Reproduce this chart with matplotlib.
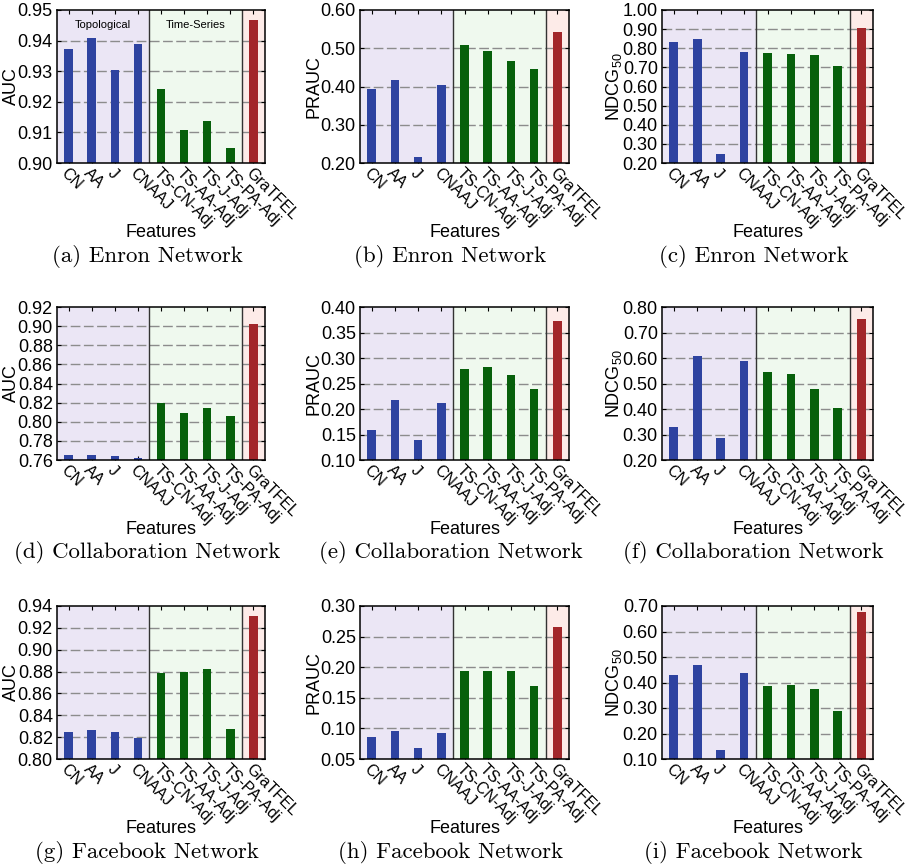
import numpy as np
import matplotlib
matplotlib.use("Agg")
import matplotlib.pyplot as plt

plt.rcParams['font.family'] = ['Liberation Sans', 'DejaVu Sans']
plt.rcParams['mathtext.default'] = 'regular'

features = ['CN', 'AA', 'J', 'CNAAJ', 'TS-CN-Adj', 'TS-AA-Adj', 'TS-J-Adj', 'TS-PA-Adj', 'GraTFEL']

# Enron
enron_auc = [0.9373, 0.9408, 0.9303, 0.9389, 0.9242, 0.9109, 0.9138, 0.9050, 0.9467]
enron_prauc = [0.394, 0.417, 0.216, 0.404, 0.509, 0.493, 0.467, 0.446, 0.543]
enron_ndcg = [0.833, 0.849, 0.249, 0.781, 0.777, 0.770, 0.765, 0.708, 0.906]
# Collaboration
collab_auc = [0.7655, 0.7655, 0.7645, 0.7617, 0.8196, 0.8092, 0.8140, 0.8060, 0.9027]
collab_prauc = [0.159, 0.2175, 0.1396, 0.2117, 0.278, 0.282, 0.266, 0.239, 0.372]
collab_ndcg = [0.330, 0.6065, 0.287, 0.587, 0.544, 0.536, 0.478, 0.404, 0.751]
# Facebook
fb_auc = [0.8245, 0.8264, 0.8245, 0.8190, 0.8790, 0.8800, 0.8827, 0.8273, 0.9312]
fb_prauc = [0.0857, 0.0955, 0.0679, 0.0920, 0.1930, 0.1945, 0.1945, 0.1700, 0.2660]
fb_ndcg = [0.431, 0.470, 0.135, 0.439, 0.388, 0.392, 0.373, 0.287, 0.677]

panels = [
    (enron_auc, 'AUC', 0.90, 0.95, 0.01, '(a) Enron Network'),
    (enron_prauc, 'PRAUC', 0.20, 0.60, 0.10, '(b) Enron Network'),
    (enron_ndcg, 'NDCG$_{50}$', 0.20, 1.00, 0.10, '(c) Enron Network'),
    (collab_auc, 'AUC', 0.76, 0.92, 0.02, '(d) Collaboration Network'),
    (collab_prauc, 'PRAUC', 0.10, 0.40, 0.05, '(e) Collaboration Network'),
    (collab_ndcg, 'NDCG$_{50}$', 0.20, 0.80, 0.10, '(f) Collaboration Network'),
    (fb_auc, 'AUC', 0.80, 0.94, 0.02, '(g) Facebook Network'),
    (fb_prauc, 'PRAUC', 0.05, 0.30, 0.05, '(h) Facebook Network'),
    (fb_ndcg, 'NDCG$_{50}$', 0.10, 0.70, 0.10, '(i) Facebook Network'),
]

bar_colors = ['#2e43a0'] * 4 + ['#07600b'] * 4 + ['#a2262a']

W, H = 907, 868
fig = plt.figure(figsize=(W / 100, H / 100), dpi=100)

lefts = [57, 360, 662]
widths = [208, 209, 211]
tops = [10, 307, 606]
height = 153

for i, (vals, ylab, lo, hi, step, cap) in enumerate(panels):
    r, c = divmod(i, 3)
    ax = fig.add_axes([lefts[c] / W, 1 - (tops[r] + height) / H, widths[c] / W, height / H])
    x = np.arange(len(features))
    ax.axvspan(-0.5, 3.5, color='#ebe6f5', zorder=0)
    ax.axvspan(3.5, 7.5, color='#eff9ee', zorder=0)
    ax.axvspan(7.5, 8.5, color='#fdebe8', zorder=0)
    ticks = np.arange(lo, hi + step / 2, step)
    for t in ticks[1:-1]:
        ax.axhline(t, color='#8c8c8c', lw=1.0, ls=(0, (7, 2.5)), zorder=1)
    ax.bar(x, vals, width=0.37, color=bar_colors, zorder=2)
    ax.axvline(3.5, color='#333333', lw=1.0, zorder=3)
    ax.axvline(7.5, color='#333333', lw=1.0, zorder=3)
    ax.set_xlim(-0.5, 8.5)
    ax.set_ylim(lo, hi)
    ax.set_yticks(ticks)
    ax.set_yticklabels([f'{t:.2f}' for t in ticks], fontsize=13)
    ax.set_xticks(x)
    ax.set_xticklabels(features, rotation=-45, ha='left', va='top',
                       rotation_mode='anchor', fontsize=11.5)
    ax.tick_params(direction='in', top=True, right=True, length=3, width=0.8)
    ax.tick_params(axis='x', pad=2)
    ax.tick_params(axis='y', pad=3)
    for s in ax.spines.values():
        s.set_linewidth(1.1)
        s.set_zorder(4)
    ax.set_ylabel(ylab, fontsize=13)
    ax.yaxis.set_label_coords(-0.18, 0.5)
    ax.set_xlabel('Features', fontsize=13)
    ax.xaxis.set_label_coords(0.5, -0.40)
    fig.text((lefts[c] + widths[c] / 2 - 14) / W, 1 - (tops[r] + 246) / H, cap,
             family='cmr10', fontsize=16.5, ha='center', va='center')
    if i == 0:
        ax.text(1.5, 0.9451, 'Topological', fontsize=8, ha='center', va='center', zorder=3)
        ax.text(5.5, 0.9451, 'Time-Series', fontsize=8, ha='center', va='center', zorder=3)

fig.savefig('out.png', dpi=100)
